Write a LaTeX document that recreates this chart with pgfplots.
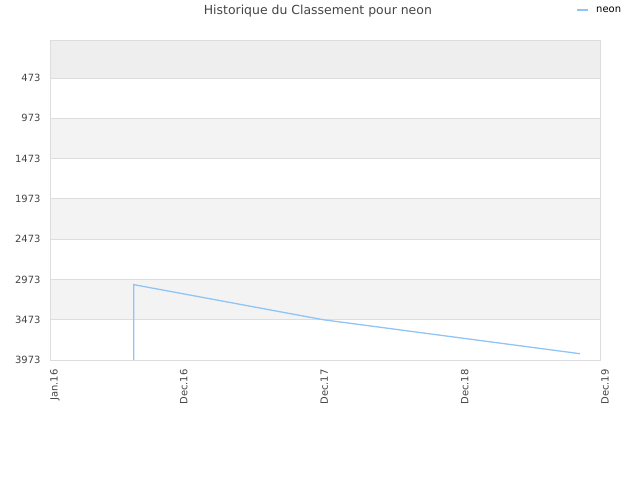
\documentclass[border=0pt]{standalone}
\usepackage{fontspec}
\setmainfont{DejaVu Sans}
\usepackage{pgfplots}
\pgfplotsset{compat=1.18}
\definecolor{linec}{HTML}{90C4F4}
\definecolor{gridc}{HTML}{DDDDDD}
\definecolor{bandA}{HTML}{EEEEEE}
\definecolor{bandB}{HTML}{F3F3F3}
\definecolor{txt}{HTML}{444444}

\begin{document}
\begin{tikzpicture}[x=1bp,y=1bp]
\begin{axis}[
  set layers=standard,
  at={(50bp,120bp)}, anchor=south west,
  scale only axis, width=550bp, height=320bp,
  xmin=0, xmax=1430,
  ymin=1, ymax=3973, y dir=reverse,
  xtick={0,335,700,1065,1430},
  xticklabels={Jan.16,Dec.16,Dec.17,Dec.18,Dec.19},
  ytick={473,973,1473,1973,2473,2973,3473,3973},
  xticklabel shift=6bp, yticklabel shift=6bp,
  x tick label style={rotate=90, anchor=east, yshift=-5bp, font=\fontsize{10}{11}\selectfont, text=txt},
  y tick label style={font=\fontsize{10}{11}\selectfont, text=txt},
  /pgf/number format/assume math mode=true,
  /pgf/number format/1000 sep={},
  ymajorgrids, grid style={gridc, line width=0.8pt},
  major tick length=0pt,
  axis line style={gridc, line width=0.8pt},
  title={Historique du Classement pour neon},
  title style={font=\fontsize{12.5}{14}\selectfont, text=txt, at={(0.487,1)}, yshift=13bp, anchor=south},
  clip=true,
]
\begin{pgfonlayer}{axis background}
\fill[bandA] (axis cs:0,1) rectangle (axis cs:1430,473);
\fill[bandB] (axis cs:0,973) rectangle (axis cs:1430,1473);
\fill[bandB] (axis cs:0,1973) rectangle (axis cs:1430,2473);
\fill[bandB] (axis cs:0,2973) rectangle (axis cs:1430,3473);
\end{pgfonlayer}
\addplot[linec, line width=1.3pt] coordinates {
  (218,3973) (218,3038) (710,3473) (1378,3895)
};
\end{axis}
\draw[linec, line width=1.5pt] (577,470) -- (588,470);
\node[anchor=west, inner sep=0pt, font=\fontsize{10}{11}\selectfont] at (596,470) {neon};
\path (0,0) rectangle (640,480);
\end{tikzpicture}
\end{document}
